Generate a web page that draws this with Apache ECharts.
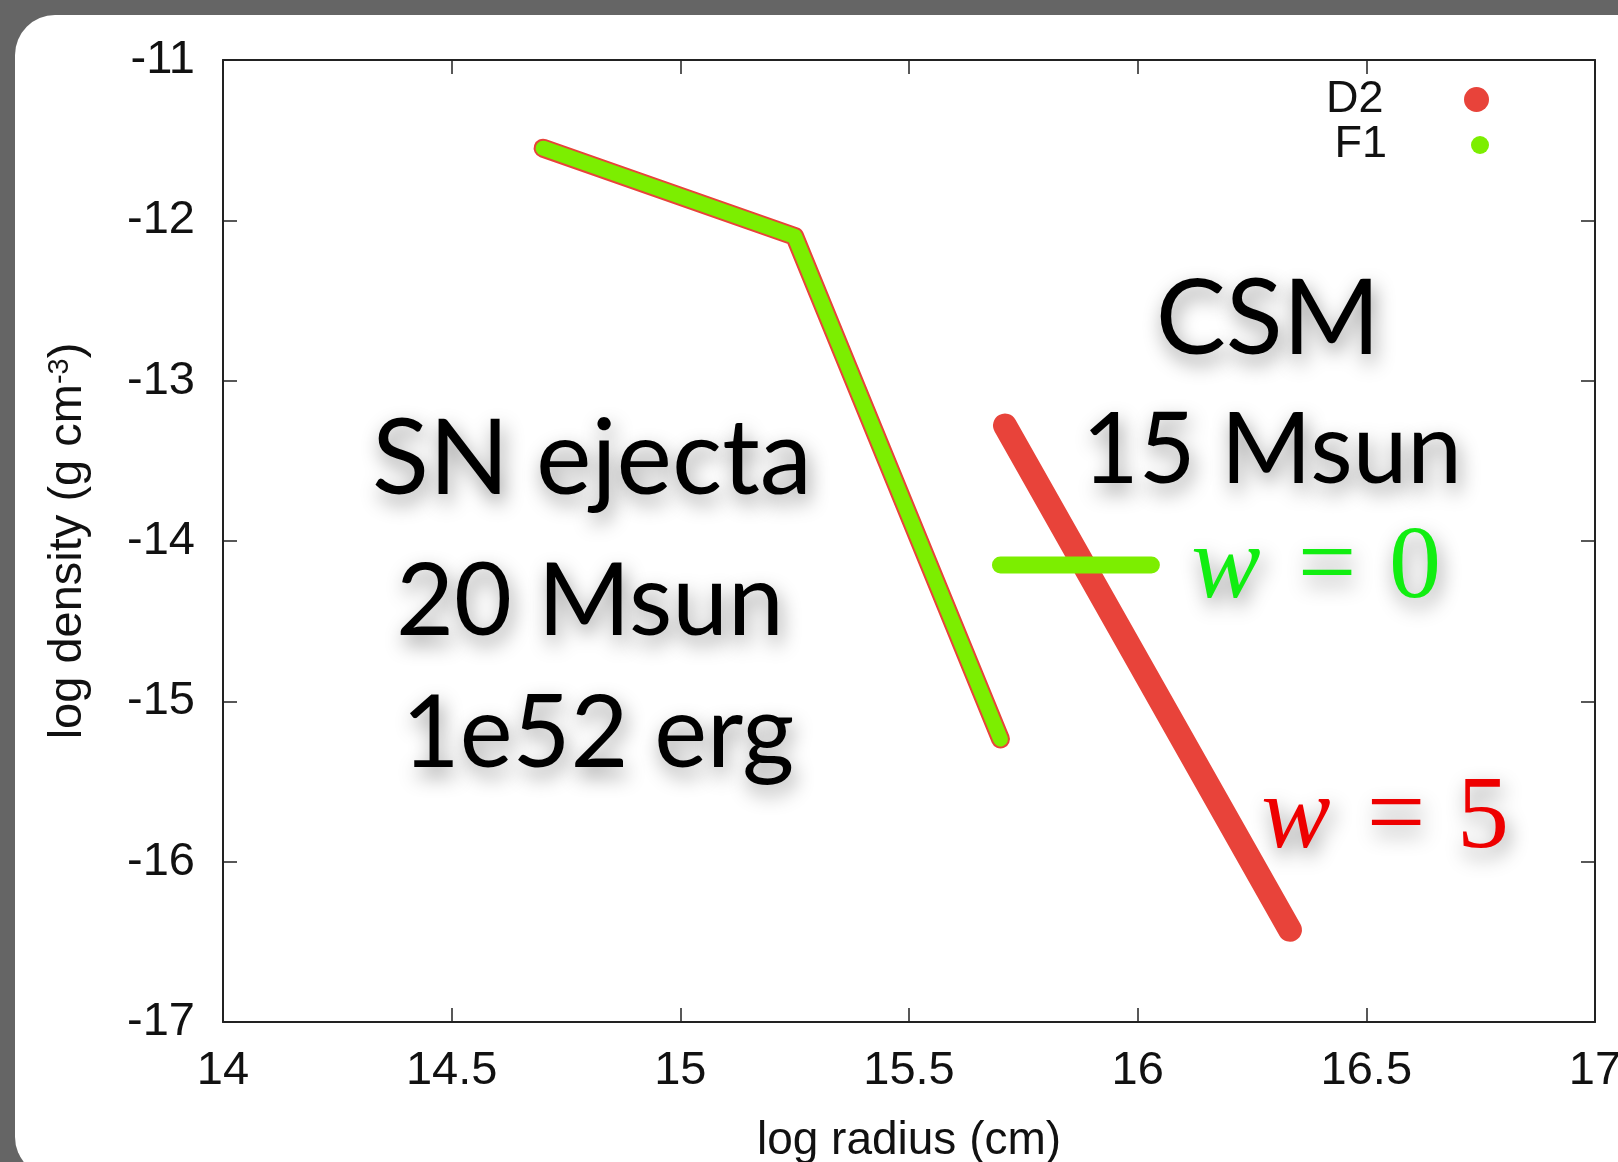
<!DOCTYPE html>
<html><head><meta charset="utf-8">
<script src="https://cdn.jsdelivr.net/npm/echarts@6/dist/echarts.min.js"></script>
<style>html,body{margin:0;padding:0;background:#656565}#c{width:1618px;height:1162px}</style>
</head><body><div id="c"></div>
<script>
// ---- data ----
const xTicks = [14, 14.5, 15, 15.5, 16, 16.5, 17];
const yTicks = [-17, -16, -15, -14, -13, -12, -11];
const xName = 'log radius (cm)';
const yName = 'log density (g cm{sup|-3})';
const seriesNames = ['D2', 'F1'];
// SN ejecta profile (both models share it)
const ejectaR = [14.70, 15.25, 15.70];
const ejectaRho = [-11.55, -12.10, -15.235];
// CSM, D2 (w = 5)
const csmD2R = [15.71, 16.333];
const csmD2Rho = [-13.28, -16.425];
// CSM, F1 (w = 0)
const csmF1R = [15.70, 16.03];
const csmF1Rho = [-14.15, -14.15];
// annotation texts
const annEjecta = ['SN ejecta', '20 Msun', '1e52 erg'];
const annCSM = ['CSM', '15 Msun'];
const annW0 = ['w', '=', '0'];
const annW5 = ['w', '=', '5'];

const RED = '#e8433a', GREEN = '#7cee00';
const pairs = (xs, ys) => xs.map((x, i) => [x, ys[i]]);
const AX = '#222';
const labelFont = {fontFamily: 'Liberation Sans', fontSize: 47, color: '#111'};

function lineSeries(name, xs, ys, color, width) {
  return {
    type: 'line', name, data: pairs(xs, ys), symbol: 'none',
    itemStyle: {color},
    lineStyle: {color, width, cap: 'round', join: 'round'},
    emphasis: {disabled: true}, silent: true, animation: false
  };
}

const shadow = {textShadowBlur: 20, textShadowColor: 'rgba(0,0,0,0.42)', textShadowOffsetX: 3, textShadowOffsetY: 9};
function ann(text, x, y, size, extra) {
  return {
    type: 'text', z: 100, silent: true,
    style: Object.assign({text, x, y, fill: '#000', font: size + 'px Lato', align: 'center', verticalAlign: 'middle'}, shadow, extra || {})
  };
}
function mathText(parts, xs, y, color) {
  return [
    ann(parts[0], xs[0], y, 104, {font: 'italic 104px "Liberation Serif"', fill: color}),
    ann(parts[1], xs[1], y, 104, {font: '104px "Liberation Serif"', fill: color}),
    ann(parts[2], xs[2], y, 104, {font: '104px "Liberation Serif"', fill: color})
  ];
}

const chart = echarts.init(document.getElementById('c'), null, {renderer: 'canvas'});
const axisCommon = {
  axisLine: {show: true, onZero: false, lineStyle: {color: AX, width: 2}},
  axisTick: {show: true, inside: true, length: 14, lineStyle: {color: AX, width: 1.5}},
  splitLine: {show: false}
};
chart.setOption({
  animation: false,
  backgroundColor: '#656565',
  grid: {left: 223, right: 23, top: 60, bottom: 140, containLabel: false, outerBoundsMode: 'none'},
  xAxis: [
    Object.assign({type: 'value', position: 'bottom', min: xTicks[0], max: xTicks[xTicks.length - 1], interval: 0.5,
      axisLabel: Object.assign({margin: 26, formatter: v => String(v)}, labelFont),
      name: xName, nameLocation: 'middle', nameGap: 96,
      nameTextStyle: {fontFamily: 'Liberation Sans', fontSize: 46, color: '#111'}}, axisCommon),
    Object.assign({type: 'value', position: 'top', min: xTicks[0], max: xTicks[xTicks.length - 1], interval: 0.5,
      axisLabel: {show: false}}, axisCommon)
  ],
  yAxis: [
    Object.assign({type: 'value', position: 'left', min: yTicks[0], max: yTicks[yTicks.length - 1], interval: 1,
      axisLabel: Object.assign({margin: 28}, labelFont),
      name: yName, nameLocation: 'middle', nameGap: 131, nameRotate: 90,
      nameTextStyle: {fontFamily: 'Liberation Sans', fontSize: 47, color: '#111',
        rich: {sup: {fontFamily: 'Liberation Sans', fontSize: 29, color: '#111', verticalAlign: 'top', lineHeight: 18}}}}, axisCommon),
    Object.assign({type: 'value', position: 'right', min: yTicks[0], max: yTicks[yTicks.length - 1], interval: 1,
      axisLabel: {show: false}}, axisCommon)
  ],
  legend: [
    {data: [{name: seriesNames[0], icon: 'circle'}], orient: 'vertical', align: 'right', right: 129, top: 77, padding: 0,
      itemWidth: 176, itemHeight: 25, selectedMode: false, itemStyle: {borderWidth: 0},
      textStyle: {fontFamily: 'Liberation Sans', fontSize: 45, color: '#111', lineHeight: 44}},
    {data: [{name: seriesNames[1], icon: 'circle'}], orient: 'vertical', align: 'right', right: 129, top: 122.5, padding: 0,
      itemWidth: 176, itemHeight: 18, selectedMode: false, itemStyle: {borderWidth: 0},
      textStyle: {fontFamily: 'Liberation Sans', fontSize: 45, color: '#111', lineHeight: 44}}
  ],
  series: [
    lineSeries(seriesNames[0], ejectaR, ejectaRho, RED, 19),
    lineSeries(seriesNames[0], csmD2R, csmD2Rho, RED, 24),
    lineSeries(seriesNames[1], ejectaR, ejectaRho, GREEN, 15),
    lineSeries(seriesNames[1], csmF1R, csmF1Rho, GREEN, 17)
  ],
  graphic: [
    {type: 'rect', z: -100, silent: true, shape: {x: 15, y: 15, width: 1640, height: 1162, r: 40}, style: {fill: '#ffffff'}},
    ann(annEjecta[0], 592, 460, 105),
    ann(annEjecta[1], 590, 603, 100),
    ann(annEjecta[2], 598, 735, 100),
    ann(annCSM[0], 1268, 320, 105),
    ann(annCSM[1], 1272, 451, 98),
    ...mathText(annW0, [1226, 1327, 1415], 570, '#11ee11'),
    ...mathText(annW5, [1296, 1396, 1483], 820, '#ee0000')
  ]
});
</script></body></html>
